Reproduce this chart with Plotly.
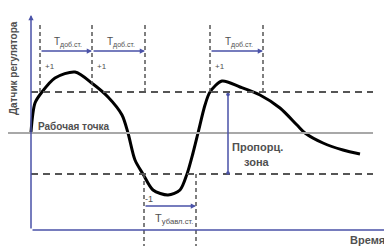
import plotly.graph_objects as go

# Sensor curve (time, deviation from working point)
time = [0, 4, 11, 24, 44, 62, 77, 91, 97, 104, 112, 122, 137, 149, 156, 162, 167, 174, 179,
        191, 209, 229, 249, 266, 274, 292, 312, 329]
signal = [1, 30, 41, 55, 61, 49, 36, 18, 0, -27, -41, -57, -62, -57, -41, -20, 0, 28, 41,
          52, 46, 38, 25, 8, 0, -10, -17, -21]

band_upper = 41
band_lower = -41
working_point = 0
add_intervals = [(9, 61), (61, 114), (179, 232)]
sub_intervals = [(113, 165)]
add_label = "T<sub>доб.ст.</sub>"
sub_label = "T<sub>убавл.ст.</sub>"

BLUE = "#4a52a8"
GRAY = "#555555"
TXT = "#505050"
FONT = "Liberation Sans"

fig = go.Figure()
fig.add_trace(go.Scatter(x=time, y=signal, mode="lines",
                         line=dict(color="black", width=3, shape="spline", smoothing=0.8),
                         hoverinfo="skip", showlegend=False))

shapes = []
# working point line
shapes.append(dict(type="line", x0=-28, x1=342, y0=working_point, y1=working_point,
                   line=dict(color="#a8a8a8", width=2)))
# band dashed lines
for lv in (band_upper, band_lower):
    shapes.append(dict(type="line", x0=0, x1=342, y0=lv, y1=lv,
                       line=dict(color=GRAY, width=2, dash="7px,5px")))
# vertical dashed for add intervals
xs_up = sorted(set([a for a, b in add_intervals] + [b for a, b in add_intervals]))
for xv in xs_up:
    shapes.append(dict(type="line", x0=xv, x1=xv, y0=108, y1=band_upper,
                       line=dict(color=GRAY, width=1.5, dash="4px,3px")))
xs_dn = sorted(set([a for a, b in sub_intervals] + [b for a, b in sub_intervals]))
for xv in xs_dn:
    shapes.append(dict(type="line", x0=xv, x1=xv, y0=band_lower, y1=-113,
                       line=dict(color=GRAY, width=1.5, dash="4px,3px")))

annotations = []
def arrow(x0, y0, x1, y1, side="end", head=2, size=0.7):
    annotations.append(dict(x=x1, y=y1, ax=x0, ay=y0, xref="x", yref="y", axref="x", ayref="y",
                            text="", showarrow=True, arrowhead=head, arrowsize=size, arrowwidth=1.5,
                            arrowcolor=BLUE, arrowside=side, startarrowhead=head, startarrowsize=size))

def text(x, y, t, size=9, bold=False, xanchor="center", angle=0):
    if bold:
        t = "<b>" + t + "</b>"
    annotations.append(dict(x=x, y=y, xref="x", yref="y", text=t, showarrow=False,
                            xanchor=xanchor, yanchor="middle", textangle=angle,
                            font=dict(family=FONT, size=size, color=TXT)))

# axes
arrow(0, -97, 0, 118)
arrow(0, -97, 360, -97)

for a, b in add_intervals:
    arrow(a, 82, b, 82)
    text((a + b) / 2 + 2, 91, add_label, size=10)
    text(a + 10, 67, "+1", size=8)
for a, b in sub_intervals:
    arrow(a, -73, b, -73)
    text((a + b) / 2 + 4, -86, sub_label, size=11)
    text(a + 5, -66, "-1", size=9)

# proportional zone arrow
arrow(197, band_upper - 1, 197, band_lower + 1, side="end+start", head=6, size=0.6)

text(5, 7, "Рабочая точка", size=10, bold=True, xanchor="left")
text(226, -14, "Пропорц.", size=11, bold=True)
text(226, -29, "зона", size=11, bold=True)
text(336, -107, "Время", size=11, bold=True)
text(-18, 65, "Датчик регулятора", size=10, bold=True, angle=-90)

fig.update_layout(
    width=384, height=238,
    margin=dict(l=0, r=0, t=0, b=0),
    paper_bgcolor="white", plot_bgcolor="white",
    xaxis=dict(range=[-23, 361], visible=False, fixedrange=True),
    yaxis=dict(range=[-113, 125], visible=False, fixedrange=True),
    shapes=shapes, annotations=annotations, showlegend=False,
)
fig.write_html("out.html")
